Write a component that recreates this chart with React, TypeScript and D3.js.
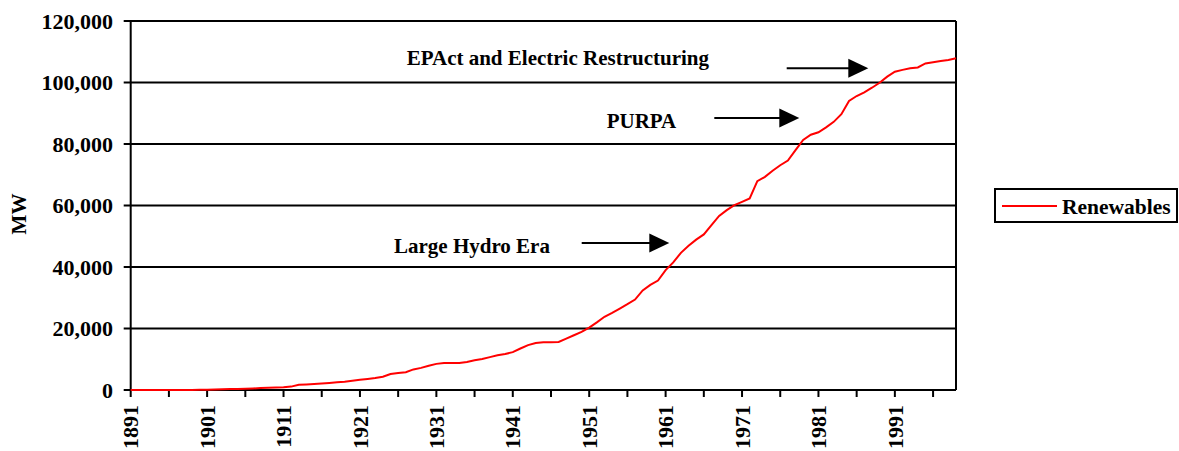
import React, { useRef, useEffect } from 'react';
import * as d3 from 'd3';

// 年ごとの再生可能エネルギー設備容量 (MW)
const firstYear = 1891;
const renewables = [
  0, 0, 0, 0, 0, 0, 0, 0, 0, // 1891-1899
  50, 100, 150, 250, 300, 350, 400, 500, 650, 750, // 1900-1909
  800, 900, 1100, 1700, 1800, 1950, 2100, 2300, 2500, 2700, // 1910-1919
  3000, 3300, 3600, 3900, 4300, 5200, 5500, 5800, 6700, 7200, // 1920-1929
  7900, 8500, 8800, 8800, 8800, 9100, 9700, 10100, 10700, 11300, // 1930-1939
  11700, 12300, 13500, 14600, 15300, 15500, 15500, 15600, 16700, 17800, // 1940-1949
  18900, 20300, 22000, 23800, 25100, 26500, 27900, 29400, 32400, 34200, // 1950-1959
  35600, 39000, 41500, 44600, 46900, 48900, 50600, 53600, 56600, 58500, // 1960-1969
  60100, 61200, 62300, 67900, 69300, 71300, 73100, 74600, 78000, 81300, // 1970-1979
  83000, 83800, 85400, 87200, 89700, 94000, 95600, 96800, 98300, 99900, // 1980-1989
  101900, 103500, 104100, 104600, 104900, 106200, 106600, 107000, 107300, 107900, // 1990-1999
];
const years = renewables.map((_, i) => firstYear + i);
const yTicks = [0, 20000, 40000, 60000, 80000, 100000, 120000];
const xLabelYears = [1891, 1901, 1911, 1921, 1931, 1941, 1951, 1961, 1971, 1981, 1991];
const xTickYears = d3.range(1891, 2000, 5);

const annotations = [
  { label: 'EPAct and Electric Restructuring', tx: 406.7, ty: 65, ax1: 786.7, ax2: 868.3, ay: 68.3 },
  { label: 'PURPA', tx: 606.7, ty: 128.3, ax1: 714.3, ax2: 799.3, ay: 118 },
  { label: 'Large Hydro Era', tx: 394, ty: 253.3, ax1: 581.7, ax2: 669.3, ay: 243 },
];

const font = '"Liberation Serif", "Times New Roman", serif';

export default function App() {
  const svgRef = useRef<SVGSVGElement>(null);

  useEffect(() => {
    const svg = d3.select(svgRef.current);
    svg.selectAll('*').remove();

    const left = 130.7, right = 956, top = 21, bottom = 390;

    const x = d3.scaleLinear().domain([1891, 1999]).range([left, right]);
    const y = d3.scaleLinear().domain([0, 120000]).range([bottom, top]);

    // 水平グリッド線
    svg.append('g')
      .selectAll('line')
      .data(yTicks)
      .join('line')
      .attr('x1', left - 7)
      .attr('x2', right)
      .attr('y1', d => y(d))
      .attr('y2', d => y(d))
      .attr('stroke', '#000')
      .attr('stroke-width', 2);

    // 枠線
    svg.append('line').attr('x1', left).attr('x2', left).attr('y1', top).attr('y2', bottom)
      .attr('stroke', '#000').attr('stroke-width', 2);
    svg.append('line').attr('x1', right).attr('x2', right).attr('y1', top).attr('y2', bottom)
      .attr('stroke', '#000').attr('stroke-width', 2);

    // y軸ラベル
    svg.append('g')
      .selectAll('text')
      .data(yTicks)
      .join('text')
      .attr('x', 113)
      .attr('y', d => y(d))
      .attr('dy', '0.35em')
      .attr('text-anchor', 'end')
      .attr('font-family', font)
      .attr('font-weight', 'bold')
      .attr('font-size', 22)
      .text(d => d3.format(',')(d));

    // x軸の目盛り
    svg.append('g')
      .selectAll('line')
      .data(xTickYears)
      .join('line')
      .attr('x1', d => x(d))
      .attr('x2', d => x(d))
      .attr('y1', bottom)
      .attr('y2', bottom + 7)
      .attr('stroke', '#000')
      .attr('stroke-width', 2);

    svg.append('g')
      .selectAll('text')
      .data(xLabelYears)
      .join('text')
      .attr('transform', d => `translate(${x(d)},405) rotate(-90)`)
      .attr('dy', '0.35em')
      .attr('text-anchor', 'end')
      .attr('font-family', font)
      .attr('font-weight', 'bold')
      .attr('font-size', 22)
      .text(d => d);

    // 軸タイトル
    svg.append('text')
      .attr('transform', 'translate(19,214) rotate(-90)')
      .attr('dy', '0.35em')
      .attr('text-anchor', 'middle')
      .attr('font-family', font)
      .attr('font-weight', 'bold')
      .attr('font-size', 21)
      .text('MW');

    // データ線
    const line = d3.line<number>()
      .x((_, i) => x(years[i]))
      .y(d => y(d));
    svg.append('path')
      .datum(renewables)
      .attr('d', line)
      .attr('fill', 'none')
      .attr('stroke', '#ff0000')
      .attr('stroke-width', 2);

    // 注釈と矢印
    const ann = svg.append('g');
    annotations.forEach(a => {
      ann.append('text')
        .attr('x', a.tx)
        .attr('y', a.ty)
        .attr('font-family', font)
        .attr('font-weight', 'bold')
        .attr('font-size', 21)
        .text(a.label);
      ann.append('line')
        .attr('x1', a.ax1).attr('x2', a.ax2 - 18)
        .attr('y1', a.ay).attr('y2', a.ay)
        .attr('stroke', '#000').attr('stroke-width', 2);
      ann.append('path')
        .attr('d', `M${a.ax2},${a.ay} L${a.ax2 - 20},${a.ay - 9.5} L${a.ax2 - 20},${a.ay + 9.5} Z`)
        .attr('fill', '#000');
    });

    // 凡例
    const lg = svg.append('g');
    lg.append('rect')
      .attr('x', 995).attr('y', 189).attr('width', 182).attr('height', 33)
      .attr('fill', 'none').attr('stroke', '#000').attr('stroke-width', 2);
    lg.append('line')
      .attr('x1', 1002).attr('x2', 1057).attr('y1', 206).attr('y2', 206)
      .attr('stroke', '#ff0000').attr('stroke-width', 2);
    lg.append('text')
      .attr('x', 1062).attr('y', 206).attr('dy', '0.35em')
      .attr('font-family', font)
      .attr('font-weight', 'bold')
      .attr('font-size', 21.5)
      .text('Renewables');
  }, []);

  return (
    <svg
      ref={svgRef}
      width={1179}
      height={451}
      style={{ position: 'absolute', left: 0, top: 0, background: '#fff' }}
    ></svg>
  );
}
